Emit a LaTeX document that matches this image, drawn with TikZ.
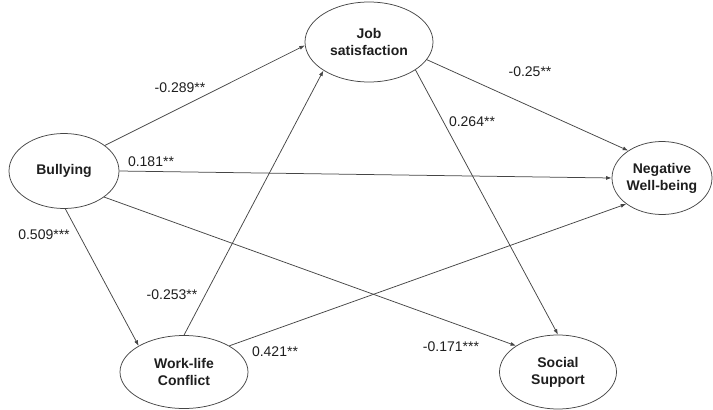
\documentclass[tikz,border=0pt]{standalone}
\usepackage{fontspec}
\setmainfont{Liberation Sans}
\usetikzlibrary{shapes.geometric,arrows.meta}
\definecolor{edgegray}{HTML}{454545}
\definecolor{textgray}{HTML}{1E1E1E}
\tikzset{
  latent/.style={ellipse,draw=edgegray,line width=0.75pt,inner sep=0pt,align=center,
    text=textgray,font=\fontsize{14}{17}\selectfont\bfseries},
  effect/.style={draw=edgegray,line width=0.75pt,-{Latex[length=5.5pt,width=4pt]}},
  coef/.style={inner sep=0pt,text=textgray,font=\fontsize{14}{17}\selectfont}
}
\begin{document}
\begin{tikzpicture}[x=1pt,y=-1pt]
            \useasboundingbox (0,0) rectangle (713,410);
            
            % Latent variables
            \node [latent,minimum width=110pt,minimum height=75pt] (bully) at (64,171) {Bullying};
            \node [latent,minimum width=128pt,minimum height=80pt] (job) at (369,42) {Job\\satisfaction};
            \node [latent,minimum width=100pt,minimum height=73pt] (neg) at (662,178) {Negative\\Well-being};
            \node [latent,minimum width=128pt,minimum height=73pt] (wlc) at (184,372) {Work-life\\Conflict};
            \node [latent,minimum width=117pt,minimum height=74pt] (soc) at (558,372) {Social\\Support};
            
            % Paths from Bullying
            \draw [effect] (bully.32) -- (job.183);
            \draw [effect] (bully.0) -- (neg.180);
            \draw [effect] (bully.-33) -- (soc.148);
            \draw [effect] (bully.-88) -- (wlc.150);
            
            % Paths from Work-life Conflict
            \draw [effect] (wlc.90) -- (job.212);
            \draw [effect] (wlc.30) -- (neg.216);
            
            % Paths from Job satisfaction
            \draw [effect] (job.-17) -- (neg.141);
            \draw [effect] (job.-31) -- (soc.90);
            
            % Path coefficients
            \node [coef] (c289) at (180,88) {-0.289**};
            \node [coef] (c181) at (151,162) {0.181**};
            \node [coef] (c509) at (44,235) {0.509***};
            \node [coef] (c253) at (172,295) {-0.253**};
            \node [coef] (c421) at (275,352) {0.421**};
            \node [coef] (c171) at (451,347) {-0.171***};
            \node [coef] (c25) at (530,72) {-0.25**};
            \node [coef] (c264) at (472,122) {0.264**};
        \end{tikzpicture}
\end{document}
